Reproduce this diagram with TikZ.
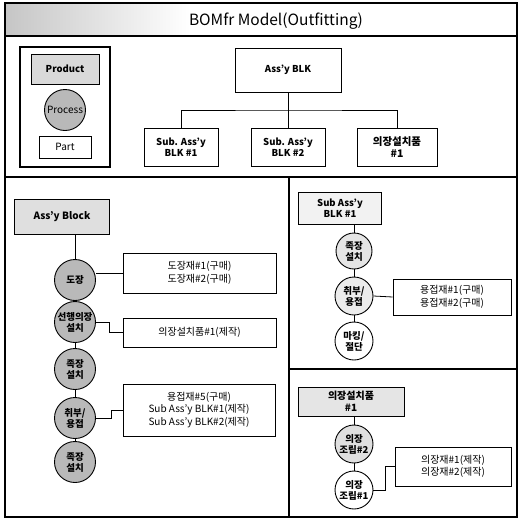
\documentclass[tikz,border=0pt]{standalone}
\usepackage{fontspec}
\setmainfont{Noto Sans CJK KR}
\begin{document}
\begin{tikzpicture}[x=1pt,y=-1pt,
  box/.style={draw,line width=0.8pt,align=center,inner sep=1pt,font=\fontsize{9.5}{11.5}\selectfont\bfseries},
  listbox/.style={draw,line width=0.8pt,align=center,inner sep=1pt,font=\fontsize{10}{12.5}\selectfont},
  proc/.style={circle,draw,line width=0.9pt,minimum size=41pt,inner sep=0pt,align=center,font=\fontsize{9.5}{11}\selectfont\bfseries},
  sproc/.style={proc,minimum size=36pt},
  link/.style={line width=0.8pt},
  frame/.style={line width=1.3pt}]
\useasboundingbox (0,0) rectangle (518,520);
% title bar
\shade[left color=gray!45,right color=white] (5,3) rectangle (190,36);
\node (title) at (276,21) {\fontsize{15.5}{18}\selectfont BOMfr Model(Outfitting)};
\draw[frame] (5,3) rectangle (517,517);
\draw[frame] (5,36) -- (517,36);
\draw[frame] (5,177) -- (517,177);
\draw[frame] (289,177) -- (289,517);
\draw[frame] (289,369) -- (517,369);
% legend
\node[draw,line width=2pt,minimum width=90pt,minimum height=120pt] (legend) at (65,107) {};
\node[box,fill=gray!30,minimum width=68pt,minimum height=30pt] (prod) at (65,69) {Product};
\node[proc,fill=gray!55,font=\fontsize{10}{11}\selectfont] (procl) at (65,110) {Process};
\node[listbox,minimum width=52pt,minimum height=22pt] (part) at (65,147) {Part};
% top tree
\node[box,minimum width=106pt,minimum height=44pt] (assy) at (288,70) {Ass’y BLK};
\node[box,minimum width=74pt,minimum height=38pt] (sub1) at (181,147) {Sub. Ass’y\\BLK \#1};
\node[box,minimum width=74pt,minimum height=38pt] (sub2) at (288,147) {Sub. Ass’y\\BLK \#2};
\node[box,minimum width=80pt,minimum height=38pt,font=\fontsize{10.5}{12.5}\selectfont\bfseries] (ojs) at (397,147) {의장설치품\\\#1};
\coordinate (bus) at (288,110);
\draw[link] (assy.south) -- (bus);
\draw[link] (sub1.north) |- (bus) -| (ojs.north);
\draw[link] (bus) -- (sub2.north);
% left panel
\node[box,fill=gray!25,minimum width=95pt,minimum height=35pt,font=\fontsize{10}{12}\selectfont\bfseries] (lblock) at (62,217) {Ass’y Block};
\node[proc,fill=gray!55] (c1) at (75,280) {도장};
\node[proc,fill=gray!55] (c2) at (75,322) {선행의장\\설치};
\node[proc,fill=gray!55] (c3) at (75,369) {족장\\설치};
\node[proc,fill=gray!55] (c4) at (75,418) {취부/\\용접};
\node[proc,fill=gray!55] (c5) at (75,462) {족장\\설치};
\draw[link] (lblock.south -| c1.north) -- (c1.north);
\draw[link] (c1) -- (c2) -- (c3) -- (c4) -- (c5);
\node[listbox,minimum width=153pt,minimum height=40pt] (b1) at (199.5,273) {도장재\#1(구매)\\도장재\#2(구매)};
\node[listbox,minimum width=153pt,minimum height=29pt] (b2) at (199.5,332.5) {의장설치품\#1(제작)};
\node[listbox,minimum width=152pt,minimum height=52pt] (b3) at (199,410) {용접재\#5(구매)\\Sub Ass’y BLK\#1(제작)\\Sub Ass’y BLK\#2(제작)};
\draw[link] (c1.east |- b1.west) -- (b1.west);
\draw[link] (c2.east) -- ++(13,0) |- (b2.west);
\draw[link] (c4.east) -- ++(15,0) |- (b3.west);
% right top panel
\node[box,fill=gray!10,minimum width=83pt,minimum height=32pt] (rsub) at (340,208) {Sub Ass’y\\BLK \#1};
\node[sproc,fill=gray!20] (r1) at (354,251) {족장\\설치};
\node[sproc,fill=gray!15,minimum size=38pt] (r2) at (354,296) {취부/\\용접};
\node[sproc,fill=white,minimum size=38pt] (r3) at (354,341) {마킹/\\절단};
\draw[link] (rsub.south -| r1.north) -- (r1.north);
\draw[link] (r1) -- (r2) -- (r3);
\node[listbox,minimum width=118pt,minimum height=36pt] (rb1) at (452,297) {용접재\#1(구매)\\용접재\#2(구매)};
\draw[link] (r2.east) -- (rb1.west);
% right bottom panel
\node[box,fill=gray!20,minimum width=106pt,minimum height=29pt,font=\fontsize{10}{11.5}\selectfont\bfseries] (rojs) at (351,401.5) {의장설치품\\\#1};
\node[sproc,fill=gray!25,minimum size=38pt] (q1) at (354,444) {의장\\조립\#2};
\node[sproc,fill=white,minimum size=38pt] (q2) at (354,490) {의장\\조립\#1};
\draw[link] (rojs.south -| q1.north) -- (q1.north);
\draw[link] (q1) -- (q2);
\node[listbox,minimum width=116pt,minimum height=39pt] (qb) at (453,466.5) {의장재\#1(제작)\\의장재\#2(제작)};
\draw[link] (q2.east) -- ++(12,0) |- (qb.west);
\end{tikzpicture}
\end{document}
